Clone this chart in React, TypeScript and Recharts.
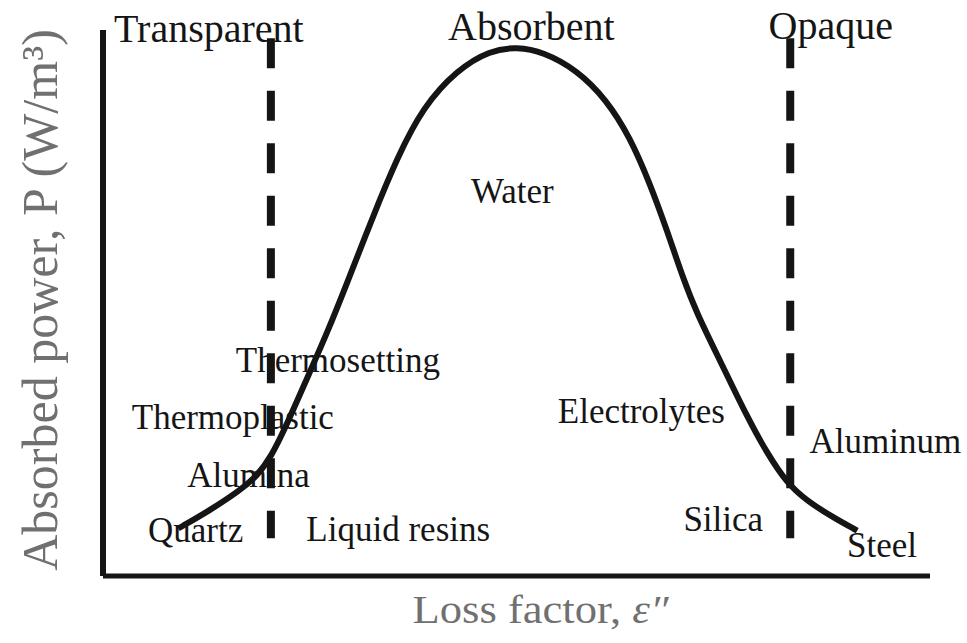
import { ComposedChart, Line, Scatter, XAxis, YAxis, ReferenceLine, Label } from 'recharts'

// Courbe puissance absorbée vs facteur de pertes (unités arbitraires 0–100)
const curveX = [9.1, 12.9, 16.6, 18.7, 20.4, 21.8, 24.7, 27.1, 29.5, 32.6, 35.6, 38.7, 42.8, 46.8, 50.1, 53.2, 57.3, 60.9, 63.7, 66.1, 68.2, 70.1, 71.8, 74.6, 77.9, 80.3, 82.7, 85.1, 88.3, 91.2]
const curveY = [8.7, 12.0, 15.7, 18.4, 22.1, 26.3, 36.3, 44.5, 53.6, 65.7, 76.7, 85.9, 92.7, 96.3, 96.9, 96.0, 92.7, 87.2, 80.4, 72.0, 63.3, 54.7, 48.1, 39.5, 29.1, 22.5, 17.0, 13.8, 10.7, 8.3]

// limites transparent / absorbant / opaque
const boundaryX = [20.3, 83.1]
const boundaryTop = 98.5
const boundaryBottom = 6.9

const regionNames = ['Transparent', 'Absorbent', 'Opaque']
const regionX = [12.8, 51.8, 88.0]
const regionY = [97.8, 98.2, 98.4]

const materialNames = ['Water', 'Thermosetting', 'Thermoplastic', 'Alumina', 'Quartz', 'Liquid resins', 'Electrolytes', 'Aluminum', 'Silica', 'Steel']
const materialX = [49.5, 28.4, 15.7, 17.6, 11.2, 35.7, 65.1, 94.6, 75.0, 94.2]
const materialY = [68.3, 37.4, 27.0, 16.3, 6.2, 6.5, 28.0, 22.5, 8.3, 3.4]

const curve = curveX.map((x, i) => ({ x, y: curveY[i] }))
const regions = regionNames.map((name, i) => ({ name, x: regionX[i], y: regionY[i] }))
const materials = materialNames.map((name, i) => ({ name, x: materialX[i], y: materialY[i] }))

const FONT = '"Liberation Serif", "Times New Roman", serif'
const INK = '#151515'
const GREY = '#707070'

const textShape = (size: number) => (props: any) => (
  <text
    x={props.cx}
    y={props.cy}
    textAnchor="middle"
    fontFamily={FONT}
    fontSize={size}
    fill={INK}
  >
    {props.payload.name}
  </text>
)

const XTitle = (props: any) => {
  const vb = props.viewBox || { x: 103, y: 576, width: 827 }
  return (
    <text
      x={vb.x + vb.width / 2 + 24}
      y={vb.y + 47}
      textAnchor="middle"
      fontFamily={FONT}
      fontSize={40}
      fill={GREY}
      textLength={256}
      lengthAdjust="spacingAndGlyphs"
    >
      Loss factor, <tspan fontStyle="italic">ε″</tspan>
    </text>
  )
}

const YTitle = (props: any) => {
  const vb = props.viewBox || { x: 0, y: 30, width: 103, height: 546 }
  const cx = 57
  const cy = vb.y + vb.height / 2 - 3
  return (
    <text
      x={cx}
      y={cy}
      transform={`rotate(-90 ${cx} ${cy})`}
      textAnchor="middle"
      fontFamily={FONT}
      fontSize={50}
      fill={GREY}
    >
      Absorbed power, P (W/m³)
    </text>
  )
}

export default function App() {
  return (
    <div style={{ position: 'absolute', left: 0, top: 0 }}>
      <ComposedChart width={967} height={643} margin={{ top: 30, right: 37, left: 0, bottom: 0 }}>
        <XAxis
          type="number"
          dataKey="x"
          domain={[0, 100]}
          tick={false}
          tickLine={false}
          height={67}
          axisLine={{ stroke: INK, strokeWidth: 5 }}
        >
          <Label content={XTitle} />
        </XAxis>
        <YAxis
          type="number"
          dataKey="y"
          domain={[0, 100]}
          tick={false}
          tickLine={false}
          width={103}
          axisLine={{ stroke: INK, strokeWidth: 6 }}
        >
          <Label content={YTitle} />
        </YAxis>
        {boundaryX.map((bx) => (
          <ReferenceLine
            key={bx}
            segment={[{ x: bx, y: boundaryTop }, { x: bx, y: boundaryBottom }]}
            stroke={INK}
            strokeWidth={8}
            strokeDasharray="30 22.5"
          />
        ))}
        <Line
          data={curve}
          type="basis"
          dataKey="y"
          stroke={INK}
          strokeWidth={6}
          dot={false}
          isAnimationActive={false}
        />
        <Scatter data={regions} shape={textShape(40)} isAnimationActive={false} />
        <Scatter data={materials} shape={textShape(35)} isAnimationActive={false} />
      </ComposedChart>
    </div>
  )
}
